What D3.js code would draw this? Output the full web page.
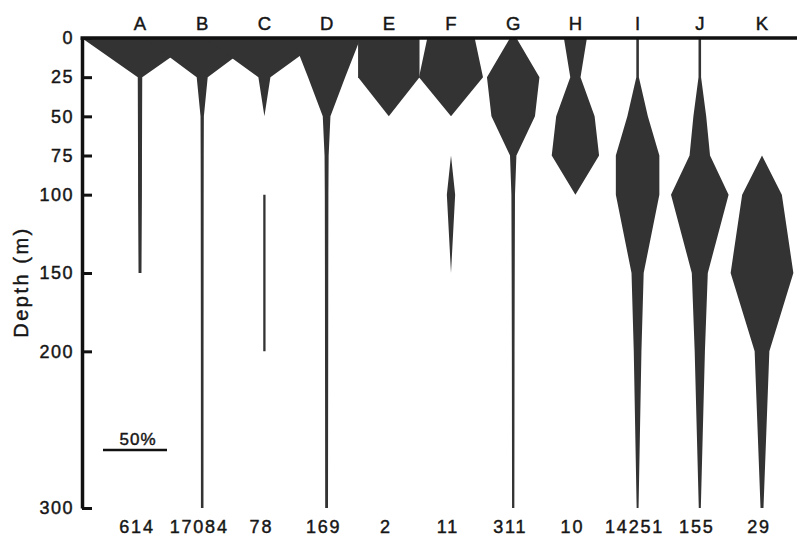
<!DOCTYPE html>
<html>
<head>
<meta charset="utf-8">
<script src="https://cdn.jsdelivr.net/npm/d3@7"></script>
<style>
  body { margin: 0; background: #fff; }
  svg { display: block; }
  text { font-family: "Liberation Sans", Arial, Helvetica, sans-serif; fill: #161616; stroke: #161616; stroke-width: 0.45px; }
</style>
</head>
<body>
<div id="plot"></div>
<script>
// kite diagram: % of each station's catch by depth

const stations = ["A", "B", "C", "D", "E", "F", "G", "H", "I", "J", "K"];
const totals = ["614", "17084", "78", "169", "2", "11", "311", "10", "14251", "155", "29"];
const depths = [0, 25, 50, 75, 100, 150, 200, 300];
const depthTicks = [0, 25, 50, 75, 100, 150, 200, 300];

// percent at each depth (null = not caught)
const pctA = [91, 3.5, 3.3, 3.1, 3, 2.3, null, null];
const pctB = [91, 8.6, 2.6, 2.4, 2.3, 2.2, 2.1, 2];
const pctC = [94, 9.4, 0, null, 1.8, 1.8, 1.8, null];
const pctD = [53, 29, 6, 3.2, 2.8, 2.6, 2.5, 2.2];
const pctE = [48, 48, 0, null, null, null, null, null];
const pctF = [37, 50, 0, 0, 6.5, 0, null, null];
const pctG = [5, 41, 34, 5, 2.8, 2.4, 2.1, 1.8];
const pctH = [18, 8, 30, 37, 0, null, null, null];
const pctI = [2, 2, 16, 34, 34, 9.5, 6, 1.5];
const pctJ = [2, 2, 10, 16, 45, 12.5, 8, 1.6];
const pctK = [null, null, null, 0, 31, 49, 11.5, 2.3];
const scaleBar = 50;

const kiteData = [pctA, pctB, pctC, pctD, pctE, pctF, pctG, pctH, pctI, pctJ, pctK];

const w = 797;
const h = 538;
const axisX = 82;

const svg = d3.select("#plot")
  .append("svg")
  .attr("width", w)
  .attr("height", h);

const xScale = d3.scalePoint()
  .domain(stations)
  .range([140, 762]);

const yScale = d3.scaleLinear()
  .domain([0, 300])
  .range([38, 508]);

// full kite width for a percentage
const wScale = d3.scaleLinear()
  .domain([0, 100])
  .range([0, 128]);

const kite = d3.area()
  .defined(d => d.v != null)
  .y(d => yScale(d.depth))
  .x0(d => d.cx - wScale(d.v) / 2)
  .x1(d => d.cx + wScale(d.v) / 2);

// kites
svg.append("g")
  .selectAll("path")
  .data(stations)
  .join("path")
  .attr("fill", "#333")
  .attr("d", (s, i) => kite(depths.map((dep, j) => ({depth: dep, v: kiteData[i][j], cx: xScale(s)}))));

// top line
svg.append("line")
  .attr("x1", axisX - 1.5)
  .attr("x2", w)
  .attr("y1", yScale(0))
  .attr("y2", yScale(0))
  .attr("stroke", "#111")
  .attr("stroke-width", 3.5);

// depth axis
const yAxis = d3.axisLeft(yScale)
  .tickValues(depthTicks)
  .tickSizeInner(-10)
  .tickSizeOuter(0)
  .tickPadding(8);

const gy = svg.append("g")
  .attr("transform", `translate(${axisX}, 0)`)
  .call(yAxis);

gy.select(".domain").attr("stroke", "#111").attr("stroke-width", 3.5);
gy.selectAll(".tick line").attr("stroke", "#111").attr("stroke-width", 3);
gy.selectAll(".tick text")
  .attr("font-family", null)
  .attr("font-size", 18)
  .attr("letter-spacing", 1.5)
  .attr("fill", "#161616");

// station letters
svg.append("g")
  .selectAll("text")
  .data(stations)
  .join("text")
  .attr("x", d => xScale(d))
  .attr("y", 30)
  .attr("text-anchor", "middle")
  .attr("font-size", 18.5)
  .text(d => d);

// totals
svg.append("g")
  .selectAll("text")
  .data(totals)
  .join("text")
  .attr("x", (d, i) => xScale(stations[i]) - 3)
  .attr("y", 533)
  .attr("text-anchor", "middle")
  .attr("font-size", 18)
  .attr("letter-spacing", 1.8)
  .text(d => d);

// axis title
svg.append("text")
  .attr("transform", "translate(28, 282) rotate(-90)")
  .attr("text-anchor", "middle")
  .attr("font-size", 20)
  .attr("letter-spacing", 2.5)
  .text("Depth (m)");

// 50% scale bar
const barX = 103;
svg.append("line")
  .attr("x1", barX)
  .attr("x2", barX + wScale(scaleBar))
  .attr("y1", 450)
  .attr("y2", 450)
  .attr("stroke", "#111")
  .attr("stroke-width", 2.5);

svg.append("text")
  .attr("x", barX + wScale(scaleBar) / 2 + 3)
  .attr("y", 445)
  .attr("text-anchor", "middle")
  .attr("font-size", 17)
  .attr("letter-spacing", 1)
  .text(scaleBar + "%");
</script>
</body>
</html>
